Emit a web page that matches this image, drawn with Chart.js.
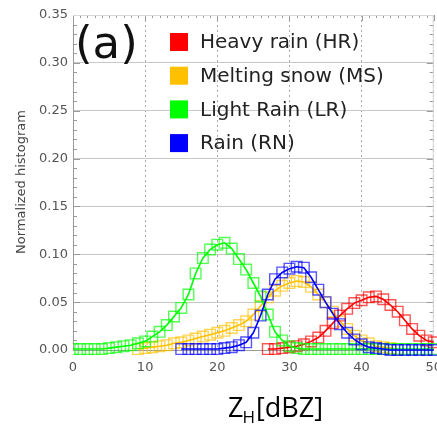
<!DOCTYPE html>
<html>
<head>
<meta charset="utf-8">
<script src="https://cdn.jsdelivr.net/npm/chart.js@4/dist/chart.umd.min.js"></script>
<style>
  html, body { margin: 0; padding: 0; background: #fff; overflow: hidden; width: 437px; height: 426px; }
  #chart { position: absolute; left: 0; top: 0; }
</style>
</head>
<body>
<canvas id="chart" width="452" height="426"></canvas>
<script>
// reflectivity bins (dBZ)
const dbz = [0,1,2,3,4,5,6,7,8,9,10,11,12,13,14,15,16,17,18,19,20,21,22,23,24,25,
  26,27,28,29,30,31,32,33,34,35,36,37,38,39,40,41,42,43,44,45,46,47,48,49,50];

const heavyRain = [null,null,null,null,null,null,null,null,null,null,null,null,null,null,
  null,null,null,null,null,null,null,null,null,null,null,null,null,
  0.001,0.001,0.002,0.003,0.004,0.006,0.009,0.013,0.020,0.028,0.036,0.043,0.049,0.052,
  0.055,0.056,0.053,0.047,0.040,0.031,0.022,0.015,0.010,0.008];

const meltingSnow = [null,null,null,null,null,null,null,null,null,
  0.001,0.002,0.003,0.004,0.005,0.007,0.008,0.010,0.012,0.014,0.016,0.018,0.020,0.023,
  0.026,0.030,0.037,0.046,0.055,0.062,0.067,0.070,0.072,0.071,0.066,0.058,0.050,0.040,
  0.030,0.022,0.015,0.010,0.007,0.004,0.003,0.002,0.001,null,null,null,null,null];

const lightRain = [0.001,0.001,0.001,0.001,0.001,0.002,0.003,0.004,0.005,0.007,0.009,
  0.014,0.019,0.026,0.035,0.044,0.058,0.080,0.096,0.105,0.110,0.112,0.106,0.095,0.084,
  0.070,0.056,0.037,0.019,0.010,0.004,0.002,0.001,0.001,0.001,0.001,0.001,0.001,0.001,
  0.001,0.001,0.001,0.001,0.001,0.001,0.001,0.001,0.001,0.001,0.001,0.001];

const rain = [null,null,null,null,null,null,null,null,null,null,null,null,null,null,null,
  0.001,0.001,0.001,0.001,0.001,0.001,0.002,0.003,0.005,0.008,0.018,0.036,0.058,0.074,
  0.081,0.085,0.087,0.086,0.076,0.063,0.050,0.038,0.027,0.018,0.011,0.006,0.003,0.002,
  0.001,0,0,0,0,0,0,0];

const labels = ['Heavy rain (HR)', 'Melting snow (MS)', 'Light Rain (LR)', 'Rain (RN)'];
const colors = ['#ff0000', '#ffc000', '#00ff00', '#0000ff'];
const drawOrder = [2, 3, 1, 0];
const yTicks = [0, 0.05, 0.10, 0.15, 0.20, 0.25, 0.30, 0.35];

const series = [heavyRain, meltingSnow, lightRain, rain];

const datasets = series.map((vals, i) => ({
  label: labels[i],
  data: dbz.map((x, j) => ({ x: x, y: vals[j] })),
  borderColor: colors[i],
  borderWidth: 1.6,
  pointStyle: 'rect',
  pointRadius: 7.5,
  pointBorderWidth: 1.4,
  pointBorderColor: colors[i] + 'aa',
  pointBackgroundColor: 'rgba(0,0,0,0)',
  tension: 0,
  spanGaps: false,
  order: drawOrder[i],
  clip: { left: 0, top: 0, right: 10, bottom: 10 }
}));

const tickFont = { family: 'DejaVu Sans', size: 13 };

const overlay = {
  id: 'overlay',
  beforeDatasetsDraw(chart) {
    const { ctx, chartArea: a, scales: { x, y } } = chart;
    ctx.save();
    ctx.strokeStyle = '#9a9a9a';
    ctx.lineWidth = 1;
    // minor ticks on the y axes, both sides
    for (let k = 0; k <= 35; k++) {
      const py = Math.round(y.getPixelForValue(k / 100)) + 0.5;
      const len = k % 5 === 0 ? 7 : 4;
      ctx.beginPath();
      ctx.moveTo(a.left, py); ctx.lineTo(a.left + len, py);
      ctx.moveTo(a.right, py); ctx.lineTo(a.right - len, py);
      ctx.stroke();
    }
    // ticks along the top edge
    for (let v = 0; v <= 50; v++) {
      const px = Math.round(x.getPixelForValue(v)) + 0.5;
      ctx.beginPath();
      ctx.moveTo(px, a.top); ctx.lineTo(px, a.top + (v % 10 === 0 ? 6 : 3));
      ctx.stroke();
    }
    ctx.strokeStyle = '#d8d8d8';
    ctx.beginPath();
    ctx.moveTo(a.left, a.top + 0.5); ctx.lineTo(a.right, a.top + 0.5);
    ctx.moveTo(a.right - 0.5, a.top); ctx.lineTo(a.right - 0.5, a.bottom);
    ctx.stroke();
    ctx.restore();
  },
  afterDraw(chart) {
    const ctx = chart.ctx;
    ctx.save();
    // panel letter
    ctx.fillStyle = '#111';
    ctx.font = '45px "DejaVu Sans"';
    ctx.textBaseline = 'alphabetic';
    ctx.fillText('(a)', 75, 58);

    // legend
    ctx.font = '20px "DejaVu Sans"';
    ctx.textBaseline = 'middle';
    chart.data.datasets.forEach((ds, i) => {
      const cy = 42 + i * 33.7;
      ctx.fillStyle = colors[i];
      ctx.fillRect(170, cy - 9, 18, 18);
      ctx.fillStyle = '#222';
      ctx.fillText(ds.label, 200, cy + 1);
    });

    // y axis title
    ctx.save();
    ctx.translate(22, 182);
    ctx.rotate(-Math.PI / 2);
    ctx.font = '13px "DejaVu Sans"';
    ctx.fillStyle = '#444';
    ctx.textAlign = 'center';
    ctx.fillText('Normalized histogram', 0, 0);
    ctx.restore();

    // x axis title with subscript
    ctx.fillStyle = '#000';
    ctx.textBaseline = 'alphabetic';
    ctx.textAlign = 'left';
    ctx.font = '27px "Open Sans"';
    ctx.fillText('Z', 228, 417);
    const zw = ctx.measureText('Z').width;
    ctx.font = '17px "Open Sans"';
    ctx.fillText('H', 228 + zw - 1, 423);
    const hw = ctx.measureText('H').width;
    ctx.font = '27px "Open Sans"';
    ctx.fillText('[dBZ]', 228 + zw + hw, 417);
    ctx.restore();
  }
};

new Chart(document.getElementById('chart'), {
  type: 'line',
  data: { datasets: datasets },
  options: {
    responsive: false,
    animation: false,
    layout: { padding: { left: 0, right: 12, top: 15, bottom: 0 } },
    plugins: { legend: { display: false }, tooltip: { enabled: false } },
    scales: {
      x: {
        type: 'linear',
        min: 0,
        max: 50,
        afterFit(scale) { scale.height = 76; },
        ticks: { stepSize: 10, font: tickFont, color: '#555', padding: 10, maxRotation: 0 },
        grid: { color: '#a8a8a8', drawTicks: false },
        border: { color: '#9a9a9a', dash: [2, 3] }
      },
      y: {
        min: 0,
        max: 0.35,
        afterFit(scale) { scale.width = 73; },
        afterBuildTicks(scale) { scale.ticks = yTicks.map(v => ({ value: v })); },
        ticks: { font: tickFont, color: '#555', padding: 5, callback: v => v.toFixed(2) },
        grid: { color: '#c8c8c8', drawTicks: false },
        border: { color: '#9a9a9a' }
      }
    }
  },
  plugins: [overlay]
});
</script>
</body>
</html>
